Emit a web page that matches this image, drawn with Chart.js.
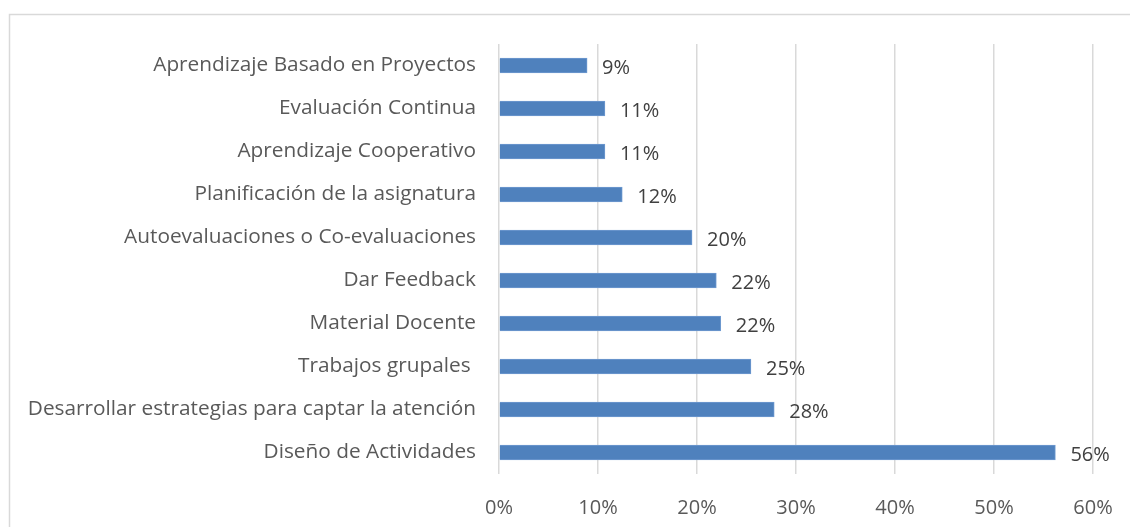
<!DOCTYPE html>
<html>
<head>
<meta charset="utf-8">
<script src="https://cdn.jsdelivr.net/npm/chart.js@4/dist/chart.umd.min.js"></script>
<style>
  html, body { margin: 0; padding: 0; background: #fff; }
  #wrap { position: relative; width: 1130px; height: 527px; overflow: hidden; }
</style>
</head>
<body>
<div id="wrap"><canvas id="myChart" width="1130" height="527"></canvas></div>
<script>
var categorias = [
  "Aprendizaje Basado en Proyectos",
  "Evaluación Continua",
  "Aprendizaje Cooperativo",
  "Planificación de la asignatura",
  "Autoevaluaciones o Co-evaluaciones",
  "Dar Feedback",
  "Material Docente",
  "Trabajos grupales ",
  "Desarrollar estrategias para captar la atención",
  "Diseño de Actividades"
];
var valores = [0.089, 0.107, 0.107, 0.1245, 0.195, 0.2195, 0.224, 0.2545, 0.278, 0.562];
var ticksX = [0, 0.1, 0.2, 0.3, 0.4, 0.5, 0.6];

var fuente = "'Open Sans', sans-serif";
var gris = '#595959';

// marco del gráfico (solo se ven borde superior e izquierdo)
var marco = {
  id: 'marco',
  beforeDraw: function (chart) {
    var ctx = chart.ctx;
    ctx.save();
    ctx.strokeStyle = '#d9d9d9';
    ctx.lineWidth = 1.5;
    ctx.strokeRect(9.5, 14.5, 1200, 600);
    ctx.restore();
  }
};

// etiquetas de valor a la derecha de cada barra
var etiquetas = {
  id: 'etiquetas',
  afterDatasetsDraw: function (chart) {
    var ctx = chart.ctx;
    var meta = chart.getDatasetMeta(0);
    ctx.save();
    ctx.font = '20px ' + fuente;
    ctx.fillStyle = '#404040';
    ctx.textAlign = 'left';
    ctx.textBaseline = 'middle';
    meta.data.forEach(function (bar, i) {
      var v = chart.data.datasets[0].data[i];
      ctx.fillText(Math.round(v * 100) + '%', bar.x + 15, bar.y + 3);
    });
    ctx.restore();
  }
};

var options = {
  type: 'bar',
  data: {
    labels: categorias,
    datasets: [{
      data: valores,
      backgroundColor: '#4f81bd',
      borderColor: '#6f9ad0',
      borderWidth: 1,
      borderSkipped: 'start',
      barThickness: 15
    }]
  },
  options: {
    indexAxis: 'y',
    responsive: false,
    animation: false,
    layout: { padding: { top: 44, right: 37, left: 0, bottom: 0 } },
    scales: {
      x: {
        min: 0,
        max: 0.6,
        afterBuildTicks: function (scale) {
          scale.ticks = ticksX.map(function (v) { return { value: v }; });
        },
        afterFit: function (scale) {
          scale.height = 53;
          scale.paddingLeft = 0;
          scale.paddingRight = 0;
        },
        grid: { color: '#d9d9d9', lineWidth: 1.5, drawTicks: false },
        border: { display: false },
        ticks: {
          padding: 22,
          color: gris,
          font: { family: fuente, size: 20 },
          callback: function (v) { return Math.round(v * 100) + '%'; }
        }
      },
      y: {
        afterFit: function (scale) { scale.width = 499; },
        grid: { display: false, drawTicks: false },
        border: { display: false },
        ticks: {
          padding: 23,
          color: gris,
          font: { family: fuente, size: 20.8 }
        }
      }
    },
    plugins: {
      legend: { display: false },
      tooltip: { enabled: false }
    }
  },
  plugins: [marco, etiquetas]
};

var ctx = document.getElementById('myChart').getContext('2d');
new Chart(ctx, options);
</script>
</body>
</html>
